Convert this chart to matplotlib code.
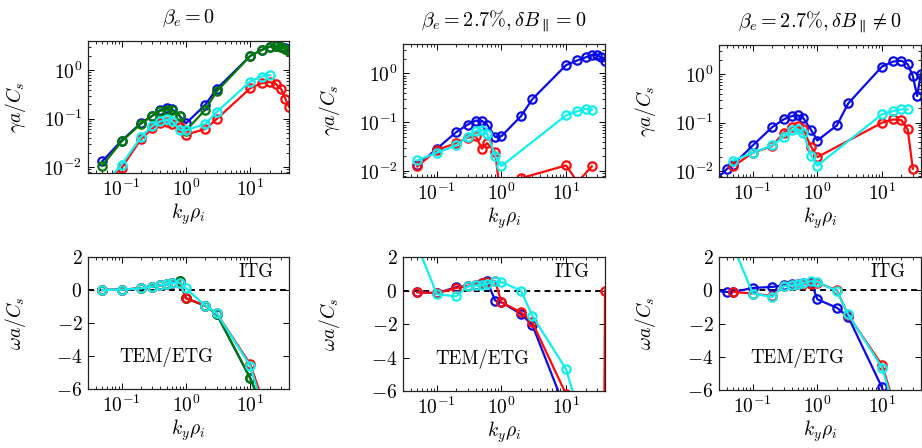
import matplotlib
matplotlib.use("Agg")
import matplotlib.pyplot as plt
import numpy as np

plt.rcParams['font.family'] = 'serif'
plt.rcParams['font.serif'] = ['cmr10']
plt.rcParams['mathtext.fontset'] = 'cm'
plt.rcParams['axes.formatter.use_mathtext'] = True
plt.rcParams['font.size'] = 11

nan = np.nan

# ky rho_i grid shared by most runs
KY = [0.05, 0.1, 0.2, 0.3, 0.4, 0.5, 0.6, 0.8, 1.0, 2, 3, 10, 15, 20, 25, 30, 35, 40]
KY3_BLUE = [0.02, 0.04] + KY

TITLES = [r'$\beta_e = 0$',
          r'$\beta_e = 2.7\%, \delta B_\parallel = 0$',
          r'$\beta_e = 2.7\%, \delta B_\parallel \neq 0$']

# ---- beta_e = 0 ----
GAM1_BLUE = [0.0133, 0.0353, 0.0814, 0.115, 0.151, 0.166, 0.16, 0.115, 0.080, 0.194, 0.41, 1.97, 2.62, 3.06, 3.2, 3.06, 2.83, 2.5]
GAM1_GREEN = [0.0108, 0.034, 0.079, 0.115, 0.146, 0.155, 0.153, 0.115, 0.057, 0.153, 0.365, 1.97, 2.6, 3.06, 3.2, 3.0, 2.8, 2.5]
GAM1_RED = [0.004, 0.0097, 0.0377, 0.063, 0.08, 0.085, 0.078, 0.066, 0.047, 0.0613, 0.098, 0.427, 0.54, 0.57, 0.52, 0.42, 0.26, 0.177]
GAM1_CYAN = [0.004, 0.0113, 0.0413, 0.0718, 0.088, 0.097, 0.091, 0.059, 0.058, 0.078, 0.137, 0.585, 0.74, 0.79, nan, nan, nan, nan]

OM1_BLUE = [0.0, 0.02, 0.1, 0.2, 0.28, 0.36, 0.42, 0.55, -0.5, -0.95, -1.45, -5.35, -7.0, -9, -11, -13, -15, -17]
OM1_GREEN = [0.0, 0.02, 0.1, 0.2, 0.28, 0.36, 0.42, 0.55, -0.5, -0.95, -1.45, -5.35, -7.0, -9, -11, -13, -15, -17]
OM1_RED = [0.0, 0.02, 0.1, 0.2, 0.28, 0.36, 0.42, 0.45, -0.5, -0.95, -1.4, -4.5, -6.5, -8.7, -11, -13, -15, -17]
OM1_CYAN = [0.0, 0.02, 0.1, 0.2, 0.28, 0.36, 0.42, 0.45, 0.1, -0.95, -1.4, -4.6, -6.9, -9, nan, nan, nan, nan]

# ---- beta_e = 2.7%, dB_par = 0 ----
GAM2_BLUE = [0.0131, 0.0288, 0.063, 0.0896, 0.108, 0.107, 0.0896, 0.05, 0.052, 0.133, 0.297, 1.48, 1.85, 2.13, 2.38, 2.38, 2.13, 1.82]
GAM2_RED = [0.0125, 0.027, 0.0376, 0.0484, 0.0516, 0.0288, 0.0376, 0.0246, 0.002, 0.0072, nan, 0.0131, 0.006, nan, 0.0125, nan, nan, nan]
GAM2_CYAN = [0.0166, 0.0238, 0.0337, 0.05, 0.066, 0.071, 0.0586, 0.0207, 0.0127, nan, nan, 0.139, 0.168, 0.188, 0.182, nan, nan, nan]

OM2_BLUE = [-0.1, -0.16, 0.2, 0.25, 0.35, 0.45, 0.55, -0.6, -0.7, -1.4, -2.05, -7.2, -10, -12, -14, -16, -18, -20]
OM2_RED = [-0.1, -0.16, 0.15, 0.28, 0.35, 0.45, 0.5, 0.55, -0.7, -1.3, -1.9, -6.2, -9, nan, -15, nan, -40, 0.0]
OM2_CYAN = [2.7, -0.22, -0.35, 0.25, 0.3, 0.35, 0.4, 0.55, 0.5, 0.0, -1.5, -4.7, -7.0, nan, nan, nan, nan, nan]

# ---- beta_e = 2.7%, dB_par != 0 ----
GAM3_BLUE = [0.0045, 0.0112, 0.0137, 0.034, 0.081, 0.117, 0.137, 0.142, 0.127, 0.0705, 0.043, 0.088, 0.25, 1.44, 1.83, 1.89, 1.61, 0.92, 0.356, 1.03]
GAM3_RED = [0.0127, 0.024, 0.033, 0.062, 0.081, 0.085, 0.073, 0.032, 0.0195, nan, nan, 0.1, 0.117, 0.113, 0.073, 0.0112, nan, nan]
GAM3_CYAN = [0.0166, 0.0239, 0.034, 0.051, 0.0705, 0.073, 0.062, 0.021, 0.0131, nan, nan, 0.149, 0.174, 0.189, 0.189, nan, nan, nan]

OM3_BLUE = [0.0, -0.1, -0.1, 0.14, 0.2, 0.3, 0.35, 0.4, 0.45, 0.5, -0.55, -1.05, -1.6, -5.85, -8, -10, -12, -14, -16, -18]
OM3_RED = [-0.1, -0.2, -0.35, 0.25, 0.3, 0.35, 0.4, 0.4, 0.45, 0.0, -1.5, -4.5, -6.7, -9, -11, -13, nan, nan]
OM3_CYAN = [2.65, -0.2, -0.4, 0.25, 0.3, 0.35, 0.42, 0.55, 0.5, -0.05, -1.45, -4.65, -6.9, nan, nan, nan, nan, nan]

BLUE = '#0a0ae6'
GREEN = '#007a00'
RED = '#ff0a0a'
CYAN = '#10eeee'

XLIM = (0.03, 40)


def draw(ax, x, y, color):
    x = np.array(x, dtype=float)
    y = np.array(y, dtype=float)
    m = ~np.isnan(y)
    ax.plot(x[m], y[m], '-o', color=color, lw=1.6, ms=6, mfc='none', mew=1.6)


def style(ax):
    ax.set_xscale('log')
    ax.set_xlim(*XLIM)
    ax.tick_params(which='both', direction='in', top=True, right=True, labelsize=14)
    ax.tick_params(which='major', length=4, width=0.7, pad=4)
    ax.tick_params(which='minor', length=2.2, width=0.6)
    for s in ax.spines.values():
        s.set_linewidth(0.9)
        s.set_color('#222222')
    ax.set_xticks([0.1, 1, 10])
    ax.set_xlabel(r'$k_y\rho_i$', fontsize=14, labelpad=1)


def top_panel(ax, series, title):
    for x, y, c in series:
        draw(ax, x, y, c)
    style(ax)
    ax.set_yscale('log')
    ax.set_ylim(0.0076, 4.0)
    ax.set_yticks([0.01, 0.1, 1])
    ax.set_ylabel(r'$\gamma a/C_s$', fontsize=14)
    ax.yaxis.set_label_coords(-0.30, 0.5)
    ax.set_title(title, fontsize=14.5, pad=13)


def bottom_panel(ax, series):
    ax.axhline(0, color='k', ls='--', lw=1.4, dashes=(3, 2.2), zorder=1)
    for x, y, c in series:
        draw(ax, x, y, c)
    style(ax)
    ax.set_ylim(-6, 2)
    ax.set_yticks([-6, -4, -2, 0, 2])
    ax.set_ylabel(r'$\omega a/C_s$', fontsize=14)
    ax.yaxis.set_label_coords(-0.30, 0.5)
    ax.text(0.835, 0.885, 'ITG', transform=ax.transAxes, ha='center', va='center', fontsize=13.5)
    ax.text(0.39, 0.24, 'TEM/ETG', transform=ax.transAxes, ha='center', va='center', fontsize=13.5)


fig = plt.figure(figsize=(9.22, 4.48), dpi=100)

ax1 = fig.add_axes([0.0954, 0.6138, 0.218, 0.2946])
ax2 = fig.add_axes([0.4371, 0.6049, 0.2191, 0.2969])
ax3 = fig.add_axes([0.7798, 0.6049, 0.2190, 0.2946])
ax4 = fig.add_axes([0.0954, 0.1317, 0.218, 0.2946])
ax5 = fig.add_axes([0.4371, 0.1272, 0.2191, 0.2991])
ax6 = fig.add_axes([0.7798, 0.1295, 0.2190, 0.2968])

top_panel(ax1, [(KY, GAM1_BLUE, BLUE), (KY, GAM1_GREEN, GREEN), (KY, GAM1_RED, RED), (KY, GAM1_CYAN, CYAN)], TITLES[0])
top_panel(ax2, [(KY, GAM2_BLUE, BLUE), (KY, GAM2_RED, RED), (KY, GAM2_CYAN, CYAN)], TITLES[1])
top_panel(ax3, [(KY3_BLUE, GAM3_BLUE, BLUE), (KY, GAM3_RED, RED), (KY, GAM3_CYAN, CYAN)], TITLES[2])

bottom_panel(ax4, [(KY, OM1_BLUE, BLUE), (KY, OM1_GREEN, GREEN), (KY, OM1_RED, RED), (KY, OM1_CYAN, CYAN)])
bottom_panel(ax5, [(KY, OM2_BLUE, BLUE), (KY, OM2_RED, RED), (KY, OM2_CYAN, CYAN)])
bottom_panel(ax6, [(KY3_BLUE, OM3_BLUE, BLUE), (KY, OM3_RED, RED), (KY, OM3_CYAN, CYAN)])

fig.savefig('out.png', dpi=100)
